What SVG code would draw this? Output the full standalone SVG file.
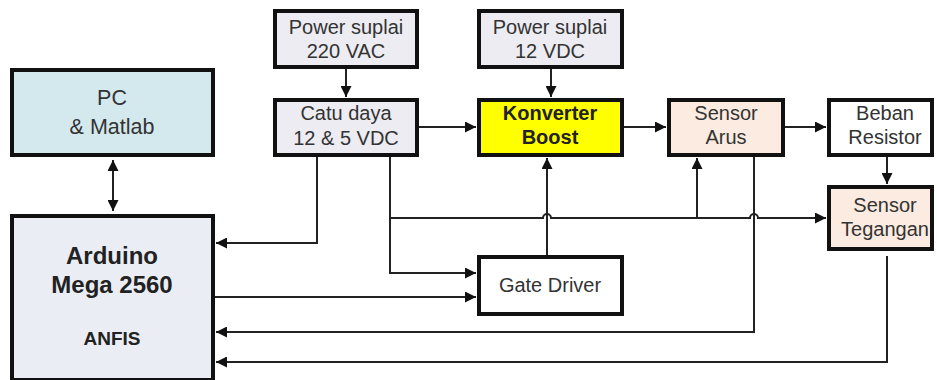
<svg xmlns="http://www.w3.org/2000/svg" width="937" height="380" viewBox="0 0 937 380">
<defs>
<marker id="ah" viewBox="0 0 10 10" refX="10" refY="5" markerWidth="11" markerHeight="11" markerUnits="userSpaceOnUse" orient="auto-start-reverse">
<path d="M0,0 L10,5 L0,10 z" fill="#111"/>
</marker>
</defs>
<style>
.box{stroke:#111;stroke-width:4}
.t{font-family:"Liberation Sans",Arial,sans-serif;font-size:20px;fill:#333;text-anchor:middle}
.b{font-weight:bold;fill:#222}
.c{fill:none;stroke:#222;stroke-width:2}
.a{marker-end:url(#ah)}
</style>
<rect width="937" height="380" fill="#fff"/>
<g id="pc"><rect class="box" x="12" y="70" width="201" height="85" fill="#d3e9ee"/><text class="t" x="112" y="105" style="font-size:21.5px">PC</text><text class="t" x="112" y="134" style="font-size:21.5px">&amp; Matlab</text></g>
<g id="ps220"><rect class="box" x="275" y="11" width="142" height="56" fill="#ececf2"/><text class="t" x="346" y="34">Power suplai</text><text class="t" x="346" y="58">220 VAC</text></g>
<g id="catu"><rect class="box" x="275" y="100" width="142" height="55" fill="#ececf2"/><text class="t" x="346" y="120">Catu daya</text><text class="t" x="346" y="145">12 &amp; 5 VDC</text></g>
<g id="ps12"><rect class="box" x="479" y="11" width="143" height="56" fill="#ececf2"/><text class="t" x="550" y="34">Power suplai</text><text class="t" x="550" y="58">12 VDC</text></g>
<g id="konverter"><rect class="box" x="479" y="100" width="143" height="55" fill="#ffff00"/><text class="t b" x="550" y="120">Konverter</text><text class="t b" x="550" y="144">Boost</text></g>
<g id="arus"><rect class="box" x="669" y="100" width="114" height="55" fill="#fcebe0"/><text class="t" x="726" y="120">Sensor</text><text class="t" x="726" y="144">Arus</text></g>
<g id="beban"><rect class="box" x="829" y="100" width="103" height="55" fill="#ffffff"/><text class="t" x="885" y="120">Beban</text><text class="t" x="885" y="144">Resistor</text></g>
<g id="tegangan"><rect class="box" x="829" y="187" width="103" height="62" fill="#fcebe0"/><text class="t" x="885" y="212">Sensor</text><text class="t" x="885" y="236">Tegangan</text></g>
<g id="arduino"><rect class="box" x="12" y="216" width="201" height="164" fill="#eaeef4"/><text class="t b" x="112" y="264" style="font-size:24px">Arduino</text><text class="t b" x="112" y="293" style="font-size:24px">Mega 2560</text><text class="t b" x="112" y="345" style="font-size:19px">ANFIS</text></g>
<g id="gate"><rect class="box" x="479" y="257" width="143" height="57" fill="#ffffff"/><text class="t" x="550" y="292">Gate Driver</text></g>
<g id="connectors">
<path class="c a" d="M113,160 L113,211" style="marker-start:url(#ah)"/>
<path class="c a" d="M346,69 L346,97"/>
<path class="c a" d="M551,69 L551,97"/>
<path class="c a" d="M419,127 L476,127"/>
<path class="c a" d="M624,127 L666,127"/>
<path class="c a" d="M785,127 L826,127"/>
<path class="c a" d="M887,157 L887,184"/>
<path class="c a" d="M317,157 L317,243 L216,243"/>
<path class="c a" d="M390,157 L390,273 L476,273"/>
<path class="c a" d="M390,218 L543,218 A4,4 0 0 1 551,218 L750,218 A4,4 0 0 1 758,218 L826,218"/>
<path class="c a" d="M697,218 L697,158"/>
<path class="c a" d="M547,255 L547,158"/>
<path class="c a" d="M215,297 L476,297"/>
<path class="c a" d="M754,157 L754,332 L216,332"/>
<path class="c a" d="M887,256 L887,362 L216,362"/>
</g>
</svg>
